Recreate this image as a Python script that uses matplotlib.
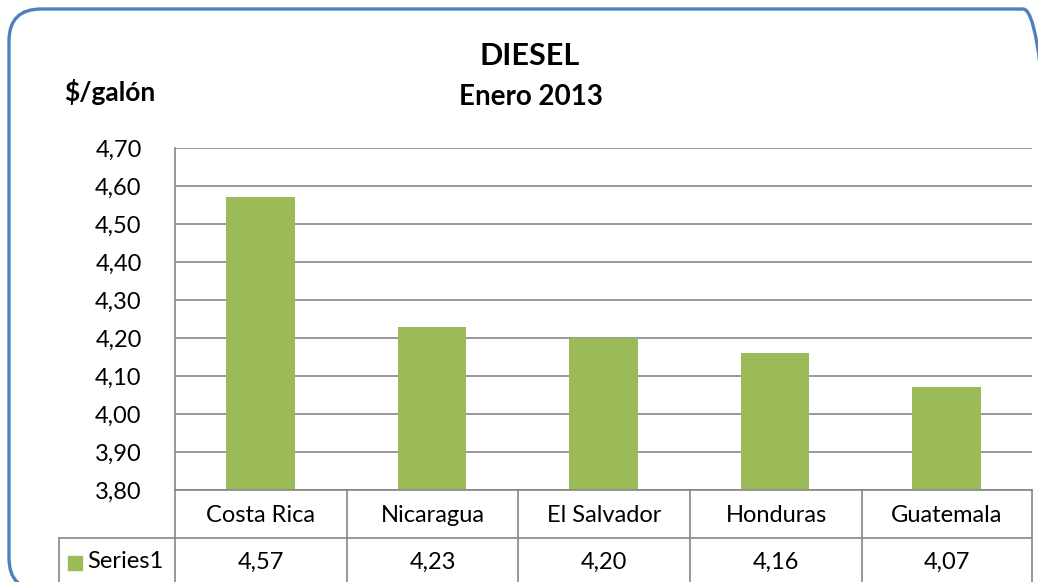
import matplotlib
matplotlib.use("Agg")
import matplotlib.pyplot as plt
from matplotlib.patches import FancyBboxPatch, Rectangle
from matplotlib.lines import Line2D

categories = ["Costa Rica", "Nicaragua", "El Salvador", "Honduras", "Guatemala"]
values = [4.57, 4.23, 4.20, 4.16, 4.07]
series_name = "Series1"
yticks = [3.80, 3.90, 4.00, 4.10, 4.20, 4.30, 4.40, 4.50, 4.60, 4.70]

W, H = 1038, 582
plt.rcParams['font.family'] = ['Lato', 'DejaVu Sans']
fig = plt.figure(figsize=(W / 100, H / 100), dpi=100)

def fx(px):
    return px / W

def fy(py):
    return 1 - py / H

# overlay axes in pixel coordinates for the outer rounded frame
bg = fig.add_axes([0, 0, 1, 1], zorder=5)
bg.set_xlim(0, W)
bg.set_ylim(0, H)
bg.axis("off")
bg.patch.set_alpha(0)
fl, fr, ft, fb = 9, 1055, 9, 590
frame = FancyBboxPatch((fl, H - fb), fr - fl, fb - ft,
                       boxstyle="round,pad=0,rounding_size=32",
                       fill=False, edgecolor="#4F81BD", linewidth=2.4, clip_on=False)
bg.add_patch(frame)

left, right, top, bottom = 175, 1032, 148, 490
ax = fig.add_axes([fx(left), fy(bottom), fx(right - left), (bottom - top) / H])
x = list(range(len(categories)))
ax.bar(x, values, width=0.4, color="#9BBB59", zorder=3)
ax.set_xlim(-0.5, len(categories) - 0.5)
ax.set_ylim(3.80, 4.70)
ax.set_yticks(yticks)
ax.set_yticklabels([f"{v:.2f}".replace(".", ",") for v in yticks], fontsize=17)
ax.tick_params(axis="y", length=0, pad=24)
ax.set_xticks([])
ax.grid(axis="y", color="#868686", linewidth=1.2, zorder=0)
for s in ["top", "right", "bottom"]:
    ax.spines[s].set_visible(False)
ax.spines["left"].set_color("#868686")
ax.spines["left"].set_linewidth(1.2)

# data table
lc = "#868686"
row1_bot, row2_bot = 538, 600
col_edges = [175, 347, 518, 690, 862, 1032]
def hline(x0, x1, y):
    fig.add_artist(Line2D([fx(x0), fx(x1)], [fy(y), fy(y)], transform=fig.transFigure,
                          color=lc, linewidth=1.2))
def vline(xp, y0, y1):
    fig.add_artist(Line2D([fx(xp), fx(xp)], [fy(y0), fy(y1)], transform=fig.transFigure,
                          color=lc, linewidth=1.2))
hline(175, 1032, bottom)
hline(59, 1032, row1_bot)
for c in col_edges:
    vline(c, bottom, row2_bot)
vline(59, row1_bot, row2_bot)

for i, (cat, v) in enumerate(zip(categories, values)):
    cx = (col_edges[i] + col_edges[i + 1]) / 2
    fig.text(fx(cx), fy((bottom + row1_bot) / 2 + 1), cat, ha="center", va="center", fontsize=17)
    fig.text(fx(cx), fy(562), f"{v:.2f}".replace(".", ","), ha="center", va="center", fontsize=17)

fig.add_artist(Rectangle((fx(68), fy(570)), fx(14), 14 / H, transform=fig.transFigure,
                         color="#9BBB59"))
fig.text(fx(87), fy(561), series_name, ha="left", va="center", fontsize=17)

# titles
fig.text(fx(530), fy(56), "DIESEL", ha="center", va="center", fontsize=22, fontweight="bold")
fig.text(fx(531), fy(97), "Enero 2013", ha="center", va="center", fontsize=20, fontweight="bold")
fig.text(fx(110), fy(92), "$/galón", ha="center", va="center", fontsize=19, fontweight="bold")

fig.savefig("out.png", dpi=100)
